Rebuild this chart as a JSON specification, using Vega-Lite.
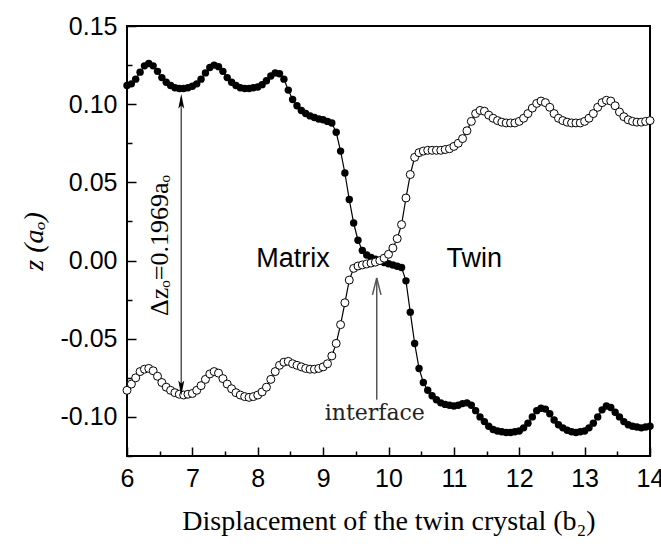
{
"$schema": "https://vega.github.io/schema/vega-lite/v6.json",
"width": 523, "height": 430,
"autosize": {"type": "none"},
"padding": {"left": 127, "top": 26, "right": 11, "bottom": 93},
"background": "white",
"config": {
  "view": {"stroke": "black", "strokeWidth": 2},
  "axis": {"domain": false, "grid": false, "tickColor": "black", "tickWidth": 1.5, "labelFont": "Liberation Sans", "labelFontSize": 25, "labelColor": "black", "titleFont": "Liberation Serif", "titleColor": "black", "titleFontWeight": "normal"}
},
"datasets": {
"curves": [
{"x":6,"z":0.112,"s":"m"},{"x":6.067,"z":0.113,"s":"m"},{"x":6.133,"z":0.116,"s":"m"},{"x":6.2,"z":0.1205,"s":"m"},{"x":6.267,"z":0.1245,"s":"m"},
{"x":6.333,"z":0.126,"s":"m"},{"x":6.4,"z":0.1245,"s":"m"},{"x":6.467,"z":0.121,"s":"m"},{"x":6.533,"z":0.117,"s":"m"},{"x":6.6,"z":0.114,"s":"m"},
{"x":6.667,"z":0.112,"s":"m"},{"x":6.733,"z":0.1105,"s":"m"},{"x":6.8,"z":0.110,"s":"m"},{"x":6.867,"z":0.110,"s":"m"},{"x":6.933,"z":0.1105,"s":"m"},
{"x":7,"z":0.1115,"s":"m"},{"x":7.067,"z":0.113,"s":"m"},{"x":7.133,"z":0.116,"s":"m"},{"x":7.2,"z":0.120,"s":"m"},{"x":7.267,"z":0.1235,"s":"m"},
{"x":7.333,"z":0.125,"s":"m"},{"x":7.4,"z":0.124,"s":"m"},{"x":7.467,"z":0.121,"s":"m"},{"x":7.533,"z":0.117,"s":"m"},{"x":7.6,"z":0.114,"s":"m"},
{"x":7.667,"z":0.112,"s":"m"},{"x":7.733,"z":0.1105,"s":"m"},{"x":7.8,"z":0.110,"s":"m"},{"x":7.867,"z":0.110,"s":"m"},{"x":7.933,"z":0.1105,"s":"m"},
{"x":8,"z":0.111,"s":"m"},{"x":8.067,"z":0.1125,"s":"m"},{"x":8.133,"z":0.115,"s":"m"},{"x":8.2,"z":0.118,"s":"m"},{"x":8.267,"z":0.120,"s":"m"},
{"x":8.333,"z":0.1195,"s":"m"},{"x":8.4,"z":0.116,"s":"m"},{"x":8.467,"z":0.109,"s":"m"},{"x":8.533,"z":0.103,"s":"m"},{"x":8.6,"z":0.099,"s":"m"},
{"x":8.667,"z":0.096,"s":"m"},{"x":8.733,"z":0.094,"s":"m"},{"x":8.8,"z":0.0925,"s":"m"},{"x":8.867,"z":0.0915,"s":"m"},{"x":8.933,"z":0.0905,"s":"m"},
{"x":9,"z":0.090,"s":"m"},{"x":9.067,"z":0.089,"s":"m"},{"x":9.133,"z":0.088,"s":"m"},{"x":9.2,"z":0.082,"s":"m"},{"x":9.267,"z":0.070,"s":"m"},
{"x":9.333,"z":0.056,"s":"m"},{"x":9.4,"z":0.039,"s":"m"},{"x":9.467,"z":0.024,"s":"m"},{"x":9.533,"z":0.013,"s":"m"},{"x":9.6,"z":0.0065,"s":"m"},
{"x":9.667,"z":0.0035,"s":"m"},{"x":9.733,"z":0.002,"s":"m"},{"x":9.8,"z":0.0008,"s":"m"},{"x":9.867,"z":-0.0003,"s":"m"},{"x":9.933,"z":-0.0012,"s":"m"},
{"x":10,"z":-0.002,"s":"m"},{"x":10.067,"z":-0.0028,"s":"m"},{"x":10.133,"z":-0.0036,"s":"m"},{"x":10.2,"z":-0.0045,"s":"m"},{"x":10.267,"z":-0.013,"s":"m"},
{"x":10.333,"z":-0.033,"s":"m"},{"x":10.4,"z":-0.053,"s":"m"},{"x":10.467,"z":-0.069,"s":"m"},{"x":10.533,"z":-0.078,"s":"m"},{"x":10.6,"z":-0.083,"s":"m"},
{"x":10.667,"z":-0.0865,"s":"m"},{"x":10.733,"z":-0.089,"s":"m"},{"x":10.8,"z":-0.091,"s":"m"},{"x":10.867,"z":-0.092,"s":"m"},{"x":10.933,"z":-0.0925,"s":"m"},
{"x":11,"z":-0.093,"s":"m"},{"x":11.067,"z":-0.0925,"s":"m"},{"x":11.133,"z":-0.0915,"s":"m"},{"x":11.2,"z":-0.091,"s":"m"},{"x":11.267,"z":-0.0925,"s":"m"},
{"x":11.333,"z":-0.096,"s":"m"},{"x":11.4,"z":-0.100,"s":"m"},{"x":11.467,"z":-0.103,"s":"m"},{"x":11.533,"z":-0.106,"s":"m"},{"x":11.6,"z":-0.108,"s":"m"},
{"x":11.667,"z":-0.109,"s":"m"},{"x":11.733,"z":-0.1095,"s":"m"},{"x":11.8,"z":-0.110,"s":"m"},{"x":11.867,"z":-0.110,"s":"m"},{"x":11.933,"z":-0.1095,"s":"m"},
{"x":12,"z":-0.109,"s":"m"},{"x":12.067,"z":-0.107,"s":"m"},{"x":12.133,"z":-0.104,"s":"m"},{"x":12.2,"z":-0.100,"s":"m"},{"x":12.267,"z":-0.096,"s":"m"},
{"x":12.333,"z":-0.0945,"s":"m"},{"x":12.4,"z":-0.095,"s":"m"},{"x":12.467,"z":-0.098,"s":"m"},{"x":12.533,"z":-0.102,"s":"m"},{"x":12.6,"z":-0.105,"s":"m"},
{"x":12.667,"z":-0.107,"s":"m"},{"x":12.733,"z":-0.1085,"s":"m"},{"x":12.8,"z":-0.1095,"s":"m"},{"x":12.867,"z":-0.110,"s":"m"},{"x":12.933,"z":-0.1095,"s":"m"},
{"x":13,"z":-0.109,"s":"m"},{"x":13.067,"z":-0.107,"s":"m"},{"x":13.133,"z":-0.104,"s":"m"},{"x":13.2,"z":-0.100,"s":"m"},{"x":13.267,"z":-0.0955,"s":"m"},
{"x":13.333,"z":-0.093,"s":"m"},{"x":13.4,"z":-0.094,"s":"m"},{"x":13.467,"z":-0.097,"s":"m"},{"x":13.533,"z":-0.100,"s":"m"},{"x":13.6,"z":-0.103,"s":"m"},
{"x":13.667,"z":-0.105,"s":"m"},{"x":13.733,"z":-0.106,"s":"m"},{"x":13.8,"z":-0.1065,"s":"m"},{"x":13.867,"z":-0.107,"s":"m"},{"x":13.933,"z":-0.1065,"s":"m"},
{"x":14,"z":-0.106,"s":"m"},
{"x":6,"z":-0.083,"s":"t"},{"x":6.067,"z":-0.079,"s":"t"},{"x":6.133,"z":-0.075,"s":"t"},{"x":6.2,"z":-0.071,"s":"t"},{"x":6.267,"z":-0.0695,"s":"t"},
{"x":6.333,"z":-0.069,"s":"t"},{"x":6.4,"z":-0.0705,"s":"t"},{"x":6.467,"z":-0.074,"s":"t"},{"x":6.533,"z":-0.078,"s":"t"},{"x":6.6,"z":-0.081,"s":"t"},
{"x":6.667,"z":-0.083,"s":"t"},{"x":6.733,"z":-0.0845,"s":"t"},{"x":6.8,"z":-0.0855,"s":"t"},{"x":6.867,"z":-0.086,"s":"t"},{"x":6.933,"z":-0.0855,"s":"t"},
{"x":7,"z":-0.085,"s":"t"},{"x":7.067,"z":-0.083,"s":"t"},{"x":7.133,"z":-0.080,"s":"t"},{"x":7.2,"z":-0.076,"s":"t"},{"x":7.267,"z":-0.0725,"s":"t"},
{"x":7.333,"z":-0.071,"s":"t"},{"x":7.4,"z":-0.072,"s":"t"},{"x":7.467,"z":-0.0755,"s":"t"},{"x":7.533,"z":-0.079,"s":"t"},{"x":7.6,"z":-0.082,"s":"t"},
{"x":7.667,"z":-0.0845,"s":"t"},{"x":7.733,"z":-0.086,"s":"t"},{"x":7.8,"z":-0.087,"s":"t"},{"x":7.867,"z":-0.0875,"s":"t"},{"x":7.933,"z":-0.087,"s":"t"},
{"x":8,"z":-0.086,"s":"t"},{"x":8.067,"z":-0.084,"s":"t"},{"x":8.133,"z":-0.081,"s":"t"},{"x":8.2,"z":-0.076,"s":"t"},{"x":8.267,"z":-0.071,"s":"t"},
{"x":8.333,"z":-0.067,"s":"t"},{"x":8.4,"z":-0.065,"s":"t"},{"x":8.467,"z":-0.0645,"s":"t"},{"x":8.533,"z":-0.066,"s":"t"},{"x":8.6,"z":-0.067,"s":"t"},
{"x":8.667,"z":-0.068,"s":"t"},{"x":8.733,"z":-0.069,"s":"t"},{"x":8.8,"z":-0.0695,"s":"t"},{"x":8.867,"z":-0.0695,"s":"t"},{"x":8.933,"z":-0.069,"s":"t"},
{"x":9,"z":-0.068,"s":"t"},{"x":9.067,"z":-0.066,"s":"t"},{"x":9.133,"z":-0.061,"s":"t"},{"x":9.2,"z":-0.053,"s":"t"},{"x":9.267,"z":-0.041,"s":"t"},
{"x":9.333,"z":-0.027,"s":"t"},{"x":9.4,"z":-0.0125,"s":"t"},{"x":9.467,"z":-0.005,"s":"t"},{"x":9.533,"z":-0.0035,"s":"t"},{"x":9.6,"z":-0.0028,"s":"t"},
{"x":9.667,"z":-0.0022,"s":"t"},{"x":9.733,"z":-0.0016,"s":"t"},{"x":9.8,"z":-0.001,"s":"t"},{"x":9.867,"z":0,"s":"t"},{"x":9.933,"z":0.0015,"s":"t"},
{"x":10,"z":0.004,"s":"t"},{"x":10.067,"z":0.008,"s":"t"},{"x":10.133,"z":0.014,"s":"t"},{"x":10.2,"z":0.023,"s":"t"},{"x":10.267,"z":0.040,"s":"t"},
{"x":10.333,"z":0.055,"s":"t"},{"x":10.4,"z":0.066,"s":"t"},{"x":10.467,"z":0.069,"s":"t"},{"x":10.533,"z":0.070,"s":"t"},{"x":10.6,"z":0.0705,"s":"t"},
{"x":10.667,"z":0.0705,"s":"t"},{"x":10.733,"z":0.0705,"s":"t"},{"x":10.8,"z":0.0705,"s":"t"},{"x":10.867,"z":0.071,"s":"t"},{"x":10.933,"z":0.0715,"s":"t"},
{"x":11,"z":0.073,"s":"t"},{"x":11.067,"z":0.075,"s":"t"},{"x":11.133,"z":0.078,"s":"t"},{"x":11.2,"z":0.083,"s":"t"},{"x":11.267,"z":0.089,"s":"t"},
{"x":11.333,"z":0.094,"s":"t"},{"x":11.4,"z":0.096,"s":"t"},{"x":11.467,"z":0.0955,"s":"t"},{"x":11.533,"z":0.093,"s":"t"},{"x":11.6,"z":0.091,"s":"t"},
{"x":11.667,"z":0.0895,"s":"t"},{"x":11.733,"z":0.0885,"s":"t"},{"x":11.8,"z":0.088,"s":"t"},{"x":11.867,"z":0.088,"s":"t"},{"x":11.933,"z":0.088,"s":"t"},
{"x":12,"z":0.089,"s":"t"},{"x":12.067,"z":0.091,"s":"t"},{"x":12.133,"z":0.094,"s":"t"},{"x":12.2,"z":0.0975,"s":"t"},{"x":12.267,"z":0.1005,"s":"t"},
{"x":12.333,"z":0.102,"s":"t"},{"x":12.4,"z":0.101,"s":"t"},{"x":12.467,"z":0.098,"s":"t"},{"x":12.533,"z":0.094,"s":"t"},{"x":12.6,"z":0.091,"s":"t"},
{"x":12.667,"z":0.0895,"s":"t"},{"x":12.733,"z":0.0885,"s":"t"},{"x":12.8,"z":0.088,"s":"t"},{"x":12.867,"z":0.088,"s":"t"},{"x":12.933,"z":0.088,"s":"t"},
{"x":13,"z":0.089,"s":"t"},{"x":13.067,"z":0.091,"s":"t"},{"x":13.133,"z":0.094,"s":"t"},{"x":13.2,"z":0.098,"s":"t"},{"x":13.267,"z":0.101,"s":"t"},
{"x":13.333,"z":0.1025,"s":"t"},{"x":13.4,"z":0.102,"s":"t"},{"x":13.467,"z":0.099,"s":"t"},{"x":13.533,"z":0.095,"s":"t"},{"x":13.6,"z":0.092,"s":"t"},
{"x":13.667,"z":0.090,"s":"t"},{"x":13.733,"z":0.089,"s":"t"},{"x":13.8,"z":0.0885,"s":"t"},{"x":13.867,"z":0.0885,"s":"t"},{"x":13.933,"z":0.089,"s":"t"},
{"x":14,"z":0.0895,"s":"t"}
]
},
"resolve": {"axis": {"x": "independent", "y": "independent"}},
"layer": [
  {
    "data": {"name": "curves"},
    "mark": {"type": "line", "color": "black", "strokeWidth": 1.2},
    "encoding": {
      "x": {"field": "x", "type": "quantitative", "scale": {"domain": [6, 14], "nice": false},
        "axis": {"orient": "bottom", "values": [6,7,8,9,10,11,12,13,14], "tickSize": -9, "labelPadding": 19, "labelFlush": false, "labelOverlap": false,
                 "title": "Displacement of the twin crystal (b₂)", "titleFontSize": 28, "titlePadding": 16}},
      "y": {"field": "z", "type": "quantitative", "scale": {"domain": [-0.125, 0.15], "nice": false},
        "axis": {"orient": "left", "values": [-0.1,-0.05,0,0.05,0.1,0.15], "tickSize": -9, "labelPadding": 19, "labelFlush": false, "labelOverlap": false,
                 "labelExpr": "replace(format(datum.value, '.2f'), '\u2212', '-')",
                 "title": "z (aₒ)", "titleFontSize": 28, "titleFontStyle": "italic", "titlePadding": 12}},
      "detail": {"field": "s"}
    }
  },
  {
    "data": {"name": "curves"},
    "transform": [{"filter": "datum.s === 'm'"}],
    "mark": {"type": "point", "filled": true, "fill": "black", "opacity": 1, "size": 55},
    "encoding": {
      "x": {"field": "x", "type": "quantitative", "axis": null},
      "y": {"field": "z", "type": "quantitative", "axis": null}
    }
  },
  {
    "data": {"name": "curves"},
    "transform": [{"filter": "datum.s === 't'"}],
    "mark": {"type": "point", "filled": true, "fill": "white", "stroke": "black", "strokeWidth": 1, "opacity": 1, "size": 64},
    "encoding": {
      "x": {"field": "x", "type": "quantitative",
        "axis": {"orient": "bottom", "values": [6.5,7.5,8.5,9.5,10.5,11.5,12.5,13.5], "tickSize": -5, "labels": false, "title": null}},
      "y": {"field": "z", "type": "quantitative",
        "axis": {"orient": "left", "values": [-0.125,-0.075,-0.025,0.025,0.075,0.125], "tickSize": -5, "labels": false, "title": null}}
    }
  },
  {
    "data": {"values": [{"x": 6.83, "y1": 0.104, "y2": -0.084}, {"x": 9.82, "y1": -0.089, "y2": -0.0115}]},
    "mark": {"type": "rule", "color": "#555555", "strokeWidth": 1.5},
    "encoding": {
      "x": {"field": "x", "type": "quantitative", "axis": null},
      "y": {"field": "y1", "type": "quantitative", "axis": null},
      "y2": {"field": "y2"}
    }
  },
  {
    "data": {"values": [{"x": 6.83, "y": 0.1019, "d": "up"}, {"x": 6.83, "y": -0.0815, "d": "down"}]},
    "mark": {"type": "point", "filled": true, "fill": "black", "opacity": 1, "size": 225, "strokeWidth": 0},
    "encoding": {
      "x": {"field": "x", "type": "quantitative", "axis": null},
      "y": {"field": "y", "type": "quantitative", "axis": null},
      "shape": {"field": "d", "type": "nominal", "legend": null,
        "scale": {"domain": ["up", "down"], "range": ["M0,-1L-0.4,1L0,0.55L0.4,1Z", "M0,1L-0.4,-1L0,-0.55L0.4,-1Z"]}}
    }
  },
  {
    "data": {"values": [{"x": 9.82, "y": -0.0165}]},
    "mark": {"type": "point", "filled": false, "stroke": "#555555", "strokeWidth": 1.5, "opacity": 1, "size": 289, "shape": "M-0.5,1L0,-1L0.5,1"},
    "encoding": {
      "x": {"field": "x", "type": "quantitative", "axis": null},
      "y": {"field": "y", "type": "quantitative", "axis": null}
    }
  },
  {
    "data": {"values": [{"x": 8.54, "y": 0.001, "t": "Matrix"}, {"x": 11.31, "y": 0.001, "t": "Twin"}]},
    "mark": {"type": "text", "font": "Liberation Sans", "fontSize": 27, "color": "black", "align": "center", "baseline": "middle"},
    "encoding": {
      "x": {"field": "x", "type": "quantitative", "axis": null},
      "y": {"field": "y", "type": "quantitative", "axis": null},
      "text": {"field": "t"}
    }
  },
  {
    "data": {"values": [{"x": 9.79, "y": -0.0975, "t": "interface"}]},
    "mark": {"type": "text", "font": "DejaVu Serif", "fontSize": 22, "color": "#222222", "align": "center", "baseline": "middle"},
    "encoding": {
      "x": {"field": "x", "type": "quantitative", "axis": null},
      "y": {"field": "y", "type": "quantitative", "axis": null},
      "text": {"field": "t"}
    }
  },
  {
    "data": {"values": [{"x": 6.5, "y": 0.0096, "t": "Δzₒ=0.1969aₒ"}]},
    "mark": {"type": "text", "font": "Liberation Serif", "fontSize": 26, "color": "black", "align": "center", "baseline": "middle", "angle": 270},
    "encoding": {
      "x": {"field": "x", "type": "quantitative", "axis": null},
      "y": {"field": "y", "type": "quantitative", "axis": null},
      "text": {"field": "t"}
    }
  }
]
}
